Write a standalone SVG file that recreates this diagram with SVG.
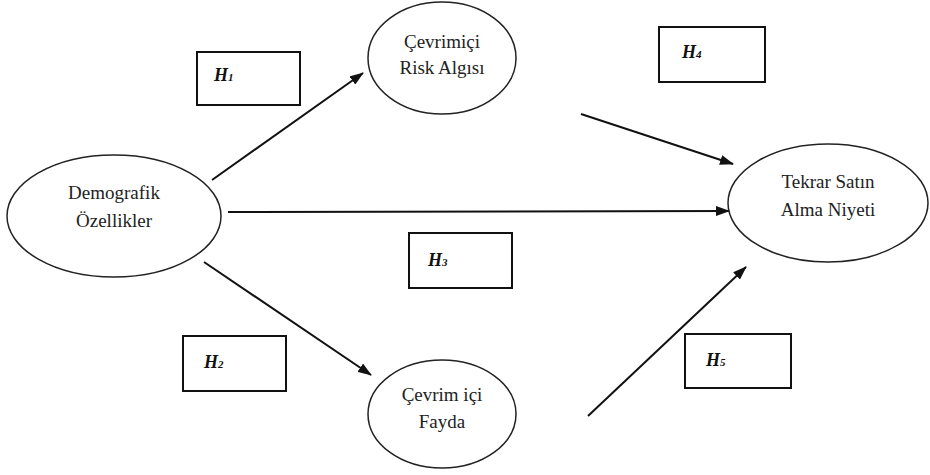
<svg xmlns="http://www.w3.org/2000/svg" width="930" height="475" viewBox="0 0 930 475">
<defs>
<marker id="ah" viewBox="0 0 14 10" refX="13" refY="5" markerWidth="14" markerHeight="10" markerUnits="userSpaceOnUse" orient="auto">
<path d="M0,0 L14,5 L0,10 Z" fill="#111"/>
</marker>
<style>
.node ellipse{fill:#fff;stroke:#222;stroke-width:1.5}
.node text{font-family:'Liberation Serif','Times New Roman',serif;font-size:19px;fill:#222;text-anchor:middle}
.hbox rect{fill:#fff;stroke:#111;stroke-width:2}
.hbox text{font-family:'Liberation Serif','Times New Roman',serif;font-size:18px;font-weight:bold;font-style:italic;fill:#111}
.hbox tspan{font-size:11px}
#connectors line{stroke:#111;stroke-width:2;marker-end:url(#ah)}
</style>
</defs>
<rect width="930" height="475" fill="#fff"/>
<g id="connectors">
<line x1="212" y1="180" x2="363" y2="73"/>
<line x1="228" y1="212" x2="729" y2="211"/>
<line x1="204" y1="262" x2="371" y2="375"/>
<line x1="581" y1="114" x2="733" y2="164"/>
<line x1="588" y1="416" x2="746" y2="267"/>
</g>
<g id="demografik" class="node">
<ellipse cx="114" cy="216" rx="107" ry="61"/>
<text x="114" y="199">Demografik</text>
<text x="114" y="227">Özellikler</text>
</g>
<g id="risk" class="node">
<ellipse cx="442" cy="58" rx="74" ry="56"/>
<text x="442" y="48">Çevrimiçi</text>
<text x="442" y="74">Risk Algısı</text>
</g>
<g id="niyet" class="node">
<ellipse cx="828" cy="203" rx="100" ry="59"/>
<text x="828" y="188">Tekrar Satın</text>
<text x="828" y="216">Alma Niyeti</text>
</g>
<g id="fayda" class="node">
<ellipse cx="442" cy="414" rx="74" ry="54"/>
<text x="442" y="401">Çevrim içi</text>
<text x="442" y="428">Fayda</text>
</g>
<g id="h1" class="hbox">
<rect x="197" y="52" width="103" height="53"/>
<text x="214" y="81">H<tspan>1</tspan></text>
</g>
<g id="h4" class="hbox">
<rect x="659" y="27" width="106" height="55"/>
<text x="682" y="58">H<tspan>4</tspan></text>
</g>
<g id="h3" class="hbox">
<rect x="409" y="233" width="103" height="55"/>
<text x="428" y="266">H<tspan>3</tspan></text>
</g>
<g id="h2" class="hbox">
<rect x="183" y="336" width="103" height="55"/>
<text x="204" y="368">H<tspan>2</tspan></text>
</g>
<g id="h5" class="hbox">
<rect x="685" y="334" width="106" height="54"/>
<text x="706" y="366">H<tspan>5</tspan></text>
</g>
</svg>
